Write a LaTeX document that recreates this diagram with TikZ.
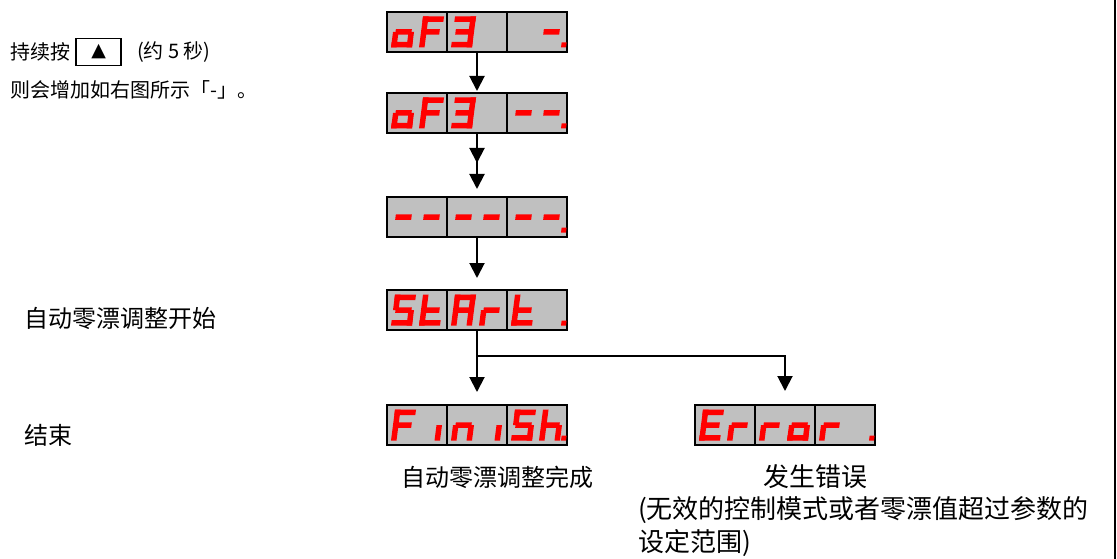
\documentclass[tikz,border=0pt]{standalone}
\usepackage{fontspec}
\setmainfont{Noto Sans CJK SC}
\newfontfamily\symfont{DejaVu Sans}
\usetikzlibrary{positioning,calc,arrows.meta,decorations.markings}

\definecolor{ledred}{RGB}{255,0,0}
\definecolor{ledgray}{RGB}{192,192,192}

% one pic per LED segment, origin at the lower left corner of a digit
\tikzset{
	ledseg/.style={fill=ledred, y=1pt, xslant=0.13},
	seg a/.pic={\fill[ledseg] (0,25.5) rectangle (21,31);},
	seg b/.pic={\fill[ledseg] (15.5,15.5) rectangle (21,31);},
	seg c/.pic={\fill[ledseg] (15.5,0) rectangle (21,15.5);},
	seg d/.pic={\fill[ledseg] (0,0) rectangle (21,5.5);},
	seg e/.pic={\fill[ledseg] (0,0) rectangle (5.5,15.5);},
	seg f/.pic={\fill[ledseg] (0,15.5) rectangle (5.5,31);},
	seg g/.pic={\fill[ledseg] (2.5,12.75) rectangle (18.5,18.25);},
	seg p/.pic={\fill[ledseg] (22,0) rectangle (27,5);},
	seg x/.pic={},
}

% dividers and six digits of a display node
\newcommand{\ledpanel}[2]{%
	\draw[line width=2pt] ($(#1.north west)!1/3!(#1.north east)$) -- ($(#1.south west)!1/3!(#1.south east)$);
	\draw[line width=2pt] ($(#1.north west)!2/3!(#1.north east)$) -- ($(#1.south west)!2/3!(#1.south east)$);
	\foreach \segs [count=\k] in {#2} {
		\pgfmathsetmacro\dx{60*floor((\k-1)/2)+28*(1-mod(\k,2))+4}
		\foreach \s in \segs {\pic at ($(#1.south west)+(\dx,-4.5)$) {seg \s};}
	}
}

\begin{document}
\begin{tikzpicture}[x=1pt, y=-1pt,
	panel/.style={draw, line width=2pt, fill=ledgray, minimum width=180pt, minimum height=40pt, inner sep=0pt, outer sep=0pt},
	arr/.style={-{Triangle[length=15pt,width=15pt]}, line width=2pt},
	hint/.style={font=\fontsize{20}{24}\selectfont, inner sep=0pt},
	note/.style={font=\fontsize{24}{28}\selectfont, inner sep=0pt},
	errnote/.style={font=\fontsize{26}{30}\selectfont, inner sep=0pt},
	keybox/.style={draw, line width=1.5pt, minimum width=45pt, minimum height=27pt, inner sep=0pt, font=\fontsize{19}{19}\symfont}]
	\useasboundingbox (0,0) rectangle (1117,559);

	% displays
	\node[panel] (b1) at (477,32) {};
	\node[panel, below=41pt of b1] (b2) {};
	\node[panel, below=64pt of b2] (b3) {};
	\node[panel, below=53pt of b3] (b4) {};
	\node[panel, below=75pt of b4] (b5) {};
	\node[panel, right=128pt of b5] (b6) {};
	\ledpanel{b1}{{c,d,e,g},{a,e,f,g},{a,b,c,d,g},{x},{x},{g,p}}
	\ledpanel{b2}{{c,d,e,g},{a,e,f,g},{a,b,c,d,g},{x},{g},{g,p}}
	\ledpanel{b3}{{g},{g},{g},{g},{g},{g,p}}
	\ledpanel{b4}{{a,c,d,f,g},{d,e,f,g},{a,b,c,e,f,g},{e,g},{d,e,f,g},{p}}
	\ledpanel{b5}{{a,e,f,g},{c},{c,e,g},{c},{a,c,d,f,g},{c,e,f,g,p}}
	\ledpanel{b6}{{a,d,e,f,g},{e,g},{e,g},{c,d,e,g},{e,g},{p}}

	% arrows
	\draw[arr, shorten >=2pt] (b1) -- (b2);
	\draw[arr, shorten >=8pt, postaction={decorate},
		decoration={markings, mark=at position 30pt with {\arrow{Triangle[length=15pt,width=15pt]}}}] (b2) -- (b3);
	\draw[arr, shorten >=12pt] (b3) -- (b4);
	\path (b4.south) ++(0,26) coordinate (split);
	\draw[arr, shorten >=13pt] (b4) -- (b5);
	\draw[arr, shorten >=14pt] (split) -| (b6.north);

	% texts
	\node[hint, anchor=west] (hold) at (10,52) {持续按};
	\node[keybox, right=5pt of hold] (upkey) {▲};
	\node[hint, right=15pt of upkey] (secs) {(约 5 秒)};
	\node[hint, anchor=west] (grow) at (10,90) {则会增加如右图所示「-」。};
	\node[note, anchor=west] (startlbl) at (24,318) {自动零漂调整开始};
	\node[note, anchor=west] (endlbl) at (24,435) {结束};
	\node[note] (donelbl) at (497,477) {自动零漂调整完成};
	\node[errnote] (errlbl) at (815,477) {发生错误};
	\node[errnote, anchor=west] (errwhy) at (638,510) {(无效的控制模式或者零漂值超过参数的};
	\node[errnote, anchor=west] (errwhy2) at (638,543) {设定范围)};

	\draw[line width=2pt] (1115,0) -- (1115,559);
\end{tikzpicture}
\end{document}
